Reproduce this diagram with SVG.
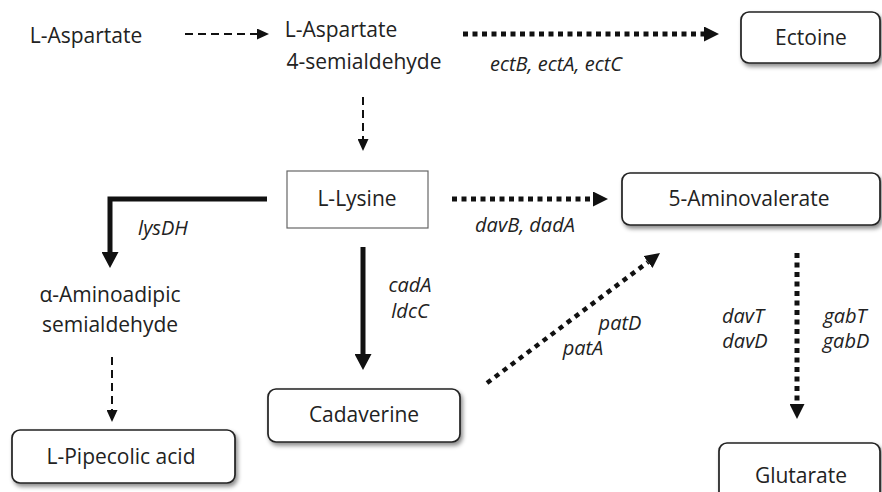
<svg xmlns="http://www.w3.org/2000/svg" width="882" height="492" viewBox="0 0 882 492">
  <defs>
    <style>
      .lbl { font-family: "Open Sans", "Noto Sans", sans-serif; font-size: 21px; fill: #222; text-anchor: middle; }
      .enz { font-family: "Open Sans", "Noto Sans", sans-serif; font-size: 20px; font-style: italic; fill: #222; text-anchor: middle; }
      .box { fill: #fff; stroke: #222; stroke-width: 1.7; filter: url(#shadow); }
      .plain { fill: #fff; stroke: #666; stroke-width: 1.2; }
      .dash { fill: none; stroke: #111; stroke-width: 2; stroke-dasharray: 8 5; }
      .dot { fill: none; stroke: #111; stroke-width: 5; stroke-dasharray: 5 4.5; }
      .solid { fill: none; stroke: #111; stroke-width: 5; stroke-linejoin: miter; }
    </style>
    <filter id="shadow" x="-10%" y="-20%" width="125%" height="160%">
      <feDropShadow dx="2" dy="3" stdDeviation="2" flood-color="#000" flood-opacity="0.45"/>
    </filter>
    <marker id="head-sm" markerUnits="userSpaceOnUse" markerWidth="12" markerHeight="11" refX="0" refY="5.5" orient="auto">
      <path d="M0,0 L12,5.5 L0,11 z" fill="#111"/>
    </marker>
    <marker id="head-md" markerUnits="userSpaceOnUse" markerWidth="15" markerHeight="15" refX="0" refY="7.5" orient="auto">
      <path d="M0,0 L15,7.5 L0,15 z" fill="#111"/>
    </marker>
    <marker id="head-lg" markerUnits="userSpaceOnUse" markerWidth="16" markerHeight="17" refX="0" refY="8.5" orient="auto">
      <path d="M0,0 L16,8.5 L0,17 z" fill="#111"/>
    </marker>
  </defs>

  <rect width="882" height="492" fill="#fff"/>

  <!-- connectors -->
  <g id="connectors">
    <line class="dash" x1="185" y1="34" x2="257" y2="34" marker-end="url(#head-sm)"/>
    <line class="dash" x1="363" y1="97" x2="363" y2="139" marker-end="url(#head-sm)"/>
    <line class="dot" x1="463" y1="34" x2="704" y2="34" marker-end="url(#head-md)"/>
    <line class="dot" x1="452" y1="199" x2="593" y2="199" marker-end="url(#head-md)"/>
    <path class="solid" d="M267,199 H110 V252" marker-end="url(#head-lg)"/>
    <line class="solid" x1="363" y1="247" x2="363" y2="354" marker-end="url(#head-lg)"/>
    <line class="dash" x1="112" y1="357" x2="112" y2="410" marker-end="url(#head-sm)"/>
    <line class="dot" x1="487" y1="383" x2="648" y2="262" style="stroke-width:4.5;stroke-dasharray:5 5" marker-end="url(#head-md)"/>
    <line class="dot" x1="797" y1="253" x2="797" y2="404" marker-end="url(#head-md)"/>
  </g>

  <!-- enzyme labels -->
  <g id="enzymes">
    <text class="enz" x="556" y="71">ectB, ectA, ectC</text>
    <text class="enz" x="525" y="232">davB, dadA</text>
    <text class="enz" x="163" y="235">lysDH</text>
    <text class="enz" x="410" y="292">cadA</text>
    <text class="enz" x="410" y="318">ldcC</text>
    <text class="enz" x="620" y="330">patD</text>
    <text class="enz" x="583" y="355">patA</text>
    <text class="enz" x="743" y="323">davT</text>
    <text class="enz" x="745" y="348">davD</text>
    <text class="enz" x="845" y="323">gabT</text>
    <text class="enz" x="846" y="348">gabD</text>
  </g>

  <!-- nodes -->
  <g id="aspartate">
    <text class="lbl" x="86" y="43">L-Aspartate</text>
  </g>
  <g id="aspartate-semialdehyde">
    <text class="lbl" x="341" y="37">L-Aspartate</text>
    <text class="lbl" x="364" y="69">4-semialdehyde</text>
  </g>
  <g id="ectoine">
    <rect class="box" x="741" y="12" width="139" height="51" rx="8"/>
    <text class="lbl" x="811" y="45">Ectoine</text>
  </g>
  <g id="lysine">
    <rect class="plain" x="287" y="171" width="141" height="57"/>
    <text class="lbl" x="357" y="206">L-Lysine</text>
  </g>
  <g id="aminovalerate">
    <rect class="box" x="622" y="173" width="258" height="52" rx="8"/>
    <text class="lbl" x="749" y="206">5-Aminovalerate</text>
  </g>
  <g id="aminoadipic-semialdehyde">
    <text class="lbl" x="110" y="302">α-Aminoadipic</text>
    <text class="lbl" x="110" y="332">semialdehyde</text>
  </g>
  <g id="pipecolic-acid">
    <rect class="box" x="12" y="430" width="223" height="53" rx="8"/>
    <text class="lbl" x="121" y="464">L-Pipecolic acid</text>
  </g>
  <g id="cadaverine">
    <rect class="box" x="268" y="389" width="192" height="53" rx="8"/>
    <text class="lbl" x="364" y="422">Cadaverine</text>
  </g>
  <g id="glutarate">
    <rect class="box" x="719" y="443" width="161" height="60" rx="8"/>
    <text class="lbl" x="801" y="483">Glutarate</text>
  </g>
</svg>
